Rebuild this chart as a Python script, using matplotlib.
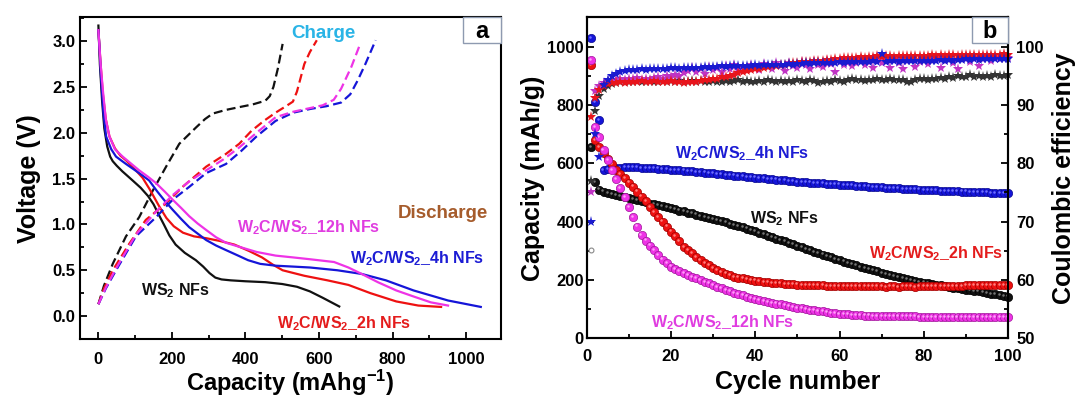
import numpy as np
import matplotlib
matplotlib.use('Agg')
import matplotlib.pyplot as plt
from matplotlib.patches import Rectangle
from matplotlib.ticker import MultipleLocator
from matplotlib.transforms import offset_copy

plt.rcParams['font.family'] = ['Liberation Sans', 'DejaVu Sans']
plt.rcParams['font.weight'] = 'bold'
plt.rcParams['axes.labelweight'] = 'bold'
plt.rcParams['mathtext.fontset'] = 'custom'
plt.rcParams['mathtext.rm'] = 'Liberation Sans:bold'
plt.rcParams['mathtext.bf'] = 'Liberation Sans:bold'
plt.rcParams['mathtext.it'] = 'Liberation Sans:bold:italic'

# ---- panel a: charge / discharge profiles (capacity mAh/g, voltage V) ----
ws2_dis_x = [0, 4, 10, 16, 24, 32, 39, 50, 65, 93, 115, 135, 150, 165, 178, 193, 210, 235, 265, 285, 302, 318, 335, 360, 400, 454, 500, 540, 575, 610, 655]
ws2_dis_y = [3.17, 2.75, 2.35, 2.05, 1.85, 1.74, 1.69, 1.64, 1.58, 1.48, 1.40, 1.31, 1.22, 1.10, 1.00, 0.88, 0.78, 0.69, 0.61, 0.54, 0.47, 0.42, 0.40, 0.39, 0.38, 0.37, 0.35, 0.32, 0.27, 0.20, 0.105]
h2_dis_x = [0, 6, 12, 20, 30, 45, 60, 75, 95, 120, 140, 165, 185, 205, 230, 260, 293, 330, 370, 410, 445, 475, 501, 560, 623, 680, 740, 810, 870, 932]
h2_dis_y = [3.12, 2.75, 2.43, 2.15, 1.96, 1.83, 1.75, 1.70, 1.62, 1.51, 1.38, 1.20, 1.07, 0.98, 0.91, 0.87, 0.85, 0.82, 0.78, 0.71, 0.64, 0.56, 0.50, 0.44, 0.39, 0.34, 0.25, 0.16, 0.115, 0.10]
h4_dis_x = [0, 4, 7, 14, 21, 35, 48, 75, 111, 138, 160, 180, 202, 225, 247, 270, 293, 320, 347, 380, 407, 440, 482, 530, 576, 650, 716, 782, 857, 951, 1040]
h4_dis_y = [3.12, 2.85, 2.61, 2.20, 1.96, 1.82, 1.74, 1.66, 1.56, 1.48, 1.36, 1.26, 1.16, 1.06, 0.97, 0.90, 0.83, 0.77, 0.72, 0.66, 0.61, 0.57, 0.55, 0.54, 0.53, 0.50, 0.46, 0.39, 0.28, 0.17, 0.10]
h12_dis_x = [0, 6, 12, 20, 30, 45, 66, 90, 111, 135, 157, 180, 202, 225, 247, 270, 293, 320, 347, 388, 430, 482, 530, 576, 641, 680, 716, 760, 810, 860, 904, 951]
h12_dis_y = [3.12, 2.75, 2.47, 2.15, 1.96, 1.82, 1.74, 1.66, 1.59, 1.52, 1.45, 1.36, 1.27, 1.18, 1.09, 1.01, 0.94, 0.86, 0.80, 0.75, 0.70, 0.66, 0.64, 0.62, 0.59, 0.53, 0.46, 0.37, 0.28, 0.21, 0.15, 0.115]

ws2_chg_x = [0, 15, 39, 75, 111, 148, 184, 220, 266, 290, 311, 347, 383, 420, 454, 466, 476, 488, 501]
ws2_chg_y = [0.13, 0.33, 0.57, 0.87, 1.08, 1.37, 1.63, 1.88, 2.06, 2.15, 2.21, 2.25, 2.28, 2.31, 2.35, 2.40, 2.50, 2.70, 2.97]
h2_chg_x = [0, 15, 39, 84, 129, 184, 229, 293, 347, 383, 416, 450, 482, 510, 529, 540, 550, 560, 575, 594]
h2_chg_y = [0.13, 0.30, 0.50, 0.79, 1.05, 1.23, 1.41, 1.63, 1.77, 1.88, 2.02, 2.13, 2.22, 2.29, 2.34, 2.45, 2.60, 2.75, 2.88, 3.01]
h4_chg_x = [0, 20, 48, 102, 157, 202, 247, 293, 347, 388, 430, 482, 530, 576, 620, 660, 685, 705, 726, 754]
h4_chg_y = [0.13, 0.30, 0.50, 0.87, 1.08, 1.27, 1.41, 1.56, 1.66, 1.80, 1.96, 2.13, 2.22, 2.26, 2.29, 2.33, 2.42, 2.57, 2.75, 3.01]
h12_chg_x = [0, 20, 48, 102, 157, 202, 247, 293, 340, 383, 430, 482, 530, 576, 610, 640, 660, 688, 712]
h12_chg_y = [0.13, 0.31, 0.52, 0.89, 1.14, 1.32, 1.47, 1.59, 1.71, 1.84, 2.00, 2.17, 2.23, 2.27, 2.30, 2.36, 2.48, 2.72, 2.97]

# ---- panel b: cycling (cycles 1..100) ----
cycles = list(range(1, 101))
ws2_cap = [657, 537, 510, 503, 498, 494, 491, 487, 484, 480,
           477, 473, 470, 466, 462, 459, 456, 452, 449, 445,
           442, 438, 435, 431, 428, 424, 420, 417, 413, 409,
           405, 401, 397, 393, 389, 384, 380, 376, 371, 367,
           362, 357, 352, 347, 342, 337, 332, 327, 322, 317,
           312, 307, 302, 297, 292, 287, 282, 277, 272, 268,
           263, 259, 254, 250, 245, 241, 237, 233, 229, 225,
           221, 217, 213, 210, 206, 203, 200, 197, 194, 191,
           188, 186, 183, 181, 178, 176, 174, 171, 169, 167,
           165, 163, 161, 159, 156, 153, 151, 148, 146, 143]
h2_cap = [937, 680, 655, 634, 615, 596, 577, 562, 548, 534,
          520, 503, 486, 469, 451, 434, 417, 400, 383, 366,
          349, 332, 314, 302, 291, 279, 268, 259, 250, 242,
          234, 228, 222, 216, 211, 208, 205, 202, 200, 198,
          196, 194, 192, 190, 189, 188, 187, 186, 185, 184,
          183, 183, 182, 182, 181, 181, 180, 180, 180, 179,
          179, 179, 178, 178, 178, 178, 178, 178, 178, 178,
          177, 178, 178, 177, 178, 178, 178, 177, 178, 178,
          178, 179, 179, 179, 179, 180, 180, 180, 180, 181,
          181, 181, 182, 182, 182, 182, 183, 183, 183, 183]
h4_cap = [1030, 811, 748, 578, 580, 582, 584, 585, 586, 586,
          586, 586, 585, 585, 584, 583, 582, 581, 580, 578,
          577, 576, 575, 574, 572, 571, 570, 568, 567, 566,
          564, 563, 561, 560, 558, 557, 555, 554, 552, 551,
          549, 548, 547, 545, 544, 542, 541, 540, 538, 537,
          536, 535, 534, 533, 532, 531, 530, 529, 528, 527,
          526, 525, 524, 523, 522, 521, 520, 519, 518, 517,
          516, 515, 515, 514, 513, 512, 511, 511, 510, 509,
          508, 508, 507, 506, 506, 505, 504, 504, 503, 503,
          502, 501, 501, 500, 500, 499, 499, 498, 498, 497]
h12_cap = [954, 725, 691, 645, 610, 577, 545, 515, 483, 451,
           417, 383, 354, 335, 318, 301, 285, 270, 257, 246,
           238, 231, 223, 217, 211, 205, 200, 194, 189, 183,
           177, 171, 166, 161, 156, 152, 147, 143, 139, 134,
           131, 128, 125, 122, 119, 116, 114, 111, 108, 105,
           103, 100, 98, 96, 94, 92, 90, 88, 86, 84,
           83, 82, 81, 80, 79, 78, 78, 77, 77, 76,
           76, 76, 75, 75, 75, 75, 75, 75, 74, 74,
           74, 74, 74, 74, 74, 74, 74, 74, 74, 74,
           74, 74, 74, 74, 74, 74, 74, 74, 74, 74]

ws2_ce = [77, 89.0, 91.5, 92.8, 93.3, 93.6, 93.8, 93.9, 94.0, 93.9,
          94.0, 94.1, 93.9, 94.0, 94.1, 94.0, 93.9, 94.1, 94.0, 94.1,
          94.0, 94.1, 93.9, 94.0, 94.1, 94.0, 94.1, 93.9, 94.0, 94.1,
          94.0, 93.9, 94.1, 94.0, 94.1, 94.2, 94.0, 94.1, 93.9, 94.0,
          94.1, 94.0, 94.2, 94.1, 94.0, 94.1, 93.9, 94.1, 94.0, 94.2,
          94.1, 94.0, 94.2, 94.1, 93.8, 94.0, 94.1, 94.0, 94.2, 94.1,
          94.0, 94.2, 94.5, 94.3, 94.2, 94.1, 94.3, 94.2, 94.4, 94.3,
          94.2, 94.4, 94.3, 94.2, 94.3, 93.9, 94.0, 94.3, 94.5, 94.4,
          94.3, 94.5, 94.4, 94.6, 94.5, 94.7, 94.6, 95.0, 94.7, 94.8,
          95.2, 94.8, 94.9, 94.7, 95.0, 94.8, 95.1, 94.9, 95.0, 95.1]
h2_ce = [88, 91.2, 92.5, 93.2, 93.5, 93.7, 93.8, 93.9, 93.8, 94.0,
         93.9, 94.0, 94.1, 93.9, 94.0, 94.1, 94.0, 93.9, 94.0, 94.1,
         93.9, 94.0, 93.8, 93.9, 94.0, 93.9, 94.1, 94.2, 94.3, 94.4,
         94.5, 94.7, 94.8, 95.0, 95.2, 95.4, 95.6, 95.8, 96.0, 96.1,
         96.2, 96.3, 96.5, 96.6, 96.7, 96.8, 96.9, 97.0, 97.1, 97.2,
         97.3, 97.3, 97.4, 97.5, 97.5, 97.6, 97.7, 97.7, 97.8, 97.9,
         98.0, 98.1, 98.0, 98.1, 98.2, 98.1, 98.2, 98.2, 98.3, 98.2,
         98.3, 98.3, 98.2, 98.3, 98.4, 98.3, 98.4, 98.4, 98.3, 98.4,
         98.4, 98.5, 98.4, 98.5, 98.4, 98.5, 98.5, 98.4, 98.5, 98.6,
         98.5, 98.6, 98.5, 98.6, 98.6, 98.5, 98.6, 98.6, 98.7, 98.6]
h4_ce = [70, 85, 81, 93.4, 94.3, 94.9, 95.3, 95.6, 95.8, 95.9,
         96.0, 96.0, 96.1, 96.0, 96.1, 96.2, 96.1, 96.2, 96.2, 96.3,
         96.3, 96.2, 96.3, 96.4, 96.3, 96.4, 96.4, 96.5, 96.4, 96.5,
         96.5, 96.6, 96.5, 96.6, 96.6, 96.7, 96.6, 96.7, 96.7, 96.8,
         96.7, 96.8, 96.8, 96.9, 96.8, 96.9, 96.9, 97.0, 96.9, 97.0,
         97.0, 97.1, 97.0, 97.1, 97.1, 97.2, 97.1, 97.2, 97.2, 97.3,
         97.2, 97.3, 97.3, 97.4, 97.3, 97.4, 97.4, 97.5, 97.4, 98.8,
         97.4, 97.5, 97.5, 97.4, 97.5, 97.5, 97.6, 97.5, 97.6, 97.6,
         97.5, 97.6, 97.6, 97.7, 97.6, 97.7, 97.6, 97.7, 97.7, 97.8,
         97.7, 97.8, 97.7, 97.8, 97.8, 97.8, 97.9, 97.8, 97.9, 97.9]
h12_ce = [75, 92.3, 93.2, 93.8, 94.1, 94.3, 94.2, 94.4, 94.3, 94.5,
          94.4, 94.6, 94.3, 94.5, 94.2, 94.6, 94.8, 94.4, 95.0, 94.7,
          95.2, 94.9, 95.4, 95.8, 96.4, 95.6, 96.2, 95.3, 96.5, 96.0,
          96.3, 95.7, 96.6, 96.1, 96.8, 95.9, 96.4, 96.1, 96.9, 96.3,
          96.0, 97.0, 96.5, 96.2, 97.1, 96.6, 95.8, 97.2, 96.7, 96.4,
          97.3, 96.8, 96.2, 97.4, 96.9, 96.5, 97.5, 97.0, 95.6, 97.3,
          96.9, 97.6, 96.6, 97.2, 97.7, 96.8, 97.4, 96.3, 97.8, 97.1,
          97.5, 96.4, 97.9, 97.2, 96.1, 97.6, 97.9, 96.5, 97.3, 98.0,
          97.0, 97.7, 98.1, 96.3, 97.6, 98.0, 97.2, 96.1, 97.9, 98.2,
          97.4, 98.0, 96.6, 97.8, 98.2, 97.5, 98.1, 97.9, 98.3, 98.0]
open_pt_cycle = [1]
open_pt_ce = [65.1]

c_blk, c_red, c_blu, c_mag = '#111111', '#ee1111', '#1515d8', '#ee33e6'

fig = plt.figure(figsize=(10.77, 4.01), dpi=100)
ax1 = fig.add_axes([0.0743, 0.1546, 0.3909, 0.8022])
ax2 = fig.add_axes([0.5448, 0.1564, 0.3912, 0.8002])

dash = (0, (4, 2))
for (dx, dy, cx, cy, col) in [(ws2_dis_x, ws2_dis_y, ws2_chg_x, ws2_chg_y, c_blk),
                              (h2_dis_x, h2_dis_y, h2_chg_x, h2_chg_y, c_red),
                              (h4_dis_x, h4_dis_y, h4_chg_x, h4_chg_y, c_blu),
                              (h12_dis_x, h12_dis_y, h12_chg_x, h12_chg_y, c_mag)]:
    ax1.plot(dx, dy, color=col, lw=1.6, solid_joinstyle='round')
    ax1.plot(cx, cy, color=col, lw=1.6, linestyle=dash)

ax1.set_xlim(-50, 1095)
ax1.set_ylim(-0.25, 3.26)
ax1.xaxis.set_major_locator(MultipleLocator(200))
ax1.xaxis.set_minor_locator(MultipleLocator(100))
ax1.yaxis.set_major_locator(MultipleLocator(0.5))
ax1.yaxis.set_minor_locator(MultipleLocator(0.25))
ax1.set_xlabel('Capacity (mAhg$^{-1}$)', fontsize=17, labelpad=1)
ax1.set_ylabel('Voltage (V)', fontsize=18, labelpad=8)

lbl = dict(fontsize=11.5, ha='center', va='center', fontweight='bold')
ax1.text(613, 3.08, 'Charge', color='#2ab4e6', fontsize=13.5, ha='center', va='center')
ax1.text(936, 1.12, 'Discharge', color='#a65c2c', fontsize=13.5, ha='center', va='center')
ax1.text(571, 0.96, 'W$_2$C/WS$_2$_12h NFs', color='#e03ce0', **lbl)
ax1.text(866, 0.625, 'W$_2$C/WS$_2$_4h NFs', color='#1c1cd4', **lbl)
ax1.text(208, 0.28, 'WS$_2$ NFs', color='#111111', **lbl)
ax1.text(669, -0.08, 'W$_2$C/WS$_2$_2h NFs', color='#e41c1c', **lbl)

# capacity circles, with a small highlight to mimic the shaded spheres
hl = offset_copy(ax2.transData, fig=fig, x=-0.8, y=0.8, units='points')
for cap, col, ec, light in [(ws2_cap, c_blk, '#000000', '#777777'),
                            (h4_cap, c_blu, '#0a0a90', '#7070ff'),
                            (h2_cap, c_red, '#a00000', '#ff8080'),
                            (h12_cap, c_mag, '#a0189a', '#ffa0f8')]:
    ax2.plot(cycles, cap, 'o', color=col, ms=6, mec=ec, mew=0.5, clip_on=False, zorder=3)
    ax2.plot(cycles, cap, 'o', color=light, ms=1.8, mew=0, clip_on=False, zorder=3,
             transform=hl)

ax2.set_xlim(0, 100)
ax2.set_ylim(0, 1100)
ax2.xaxis.set_major_locator(MultipleLocator(20))
ax2.xaxis.set_minor_locator(MultipleLocator(10))
ax2.yaxis.set_major_locator(MultipleLocator(200))
ax2.yaxis.set_minor_locator(MultipleLocator(100))
ax2.set_xlabel('Cycle number', fontsize=18, labelpad=4)
ax2.set_ylabel('Capacity (mAh/g)', fontsize=18, labelpad=2)

ax3 = ax2.twinx()
for ce, col in [(ws2_ce, '#333333'), (h12_ce, '#c034c4'), (h2_ce, '#e8141c'), (h4_ce, '#1a1ad0')]:
    ax3.plot(cycles, ce, '*', color=col, ms=8, mew=0, clip_on=False)
ax3.plot(open_pt_cycle, open_pt_ce, 'o', mfc='white', mec='#888888', ms=3.5, mew=0.8, clip_on=False)
ax3.set_ylim(50, 105)
ax3.yaxis.set_major_locator(MultipleLocator(10))
ax3.yaxis.set_minor_locator(MultipleLocator(5))
ax3.set_ylabel('Coulombic efficiency', fontsize=18, labelpad=6)

ax2.text(36.9, 633, 'W$_2$C/WS$_2$_4h NFs', color='#1c1cd4', **lbl)
ax2.text(47, 411, 'WS$_2$ NFs', color='#111111', **lbl)
ax2.text(82.8, 291, 'W$_2$C/WS$_2$_2h NFs', color='#e41c1c', **lbl)
ax2.text(32.2, 53, 'W$_2$C/WS$_2$_12h NFs', color='#e03ce0', **lbl)

for ax in (ax1, ax2, ax3):
    for s in ax.spines.values():
        s.set_linewidth(1.5)
    ax.tick_params(which='both', direction='in', width=1.3, labelsize=12)
    ax.tick_params(which='major', length=5)
    ax.tick_params(which='minor', length=3)
ax1.tick_params(which='both', top=False, right=False)
ax1.tick_params(axis='x', pad=9)
ax2.tick_params(which='both', top=False, right=False)
ax2.tick_params(axis='x', pad=8)
ax2.tick_params(axis='y', pad=2)
ax3.tick_params(which='both', left=False, right=True, labelright=True)
ax3.tick_params(axis='y', pad=6)
# the lowest right-hand label sits just above the "100" of the x axis
ax3.get_yticklabels()[0].set_verticalalignment('bottom')

# panel letters
for ax, letter, w, h in [(ax1, 'a', 0.09, 0.081), (ax3, 'b', 0.086, 0.079)]:
    ax.add_patch(Rectangle((1 - w, 1 - h), w, h, transform=ax.transAxes, fc='white',
                           ec='#8e9ab0', lw=1.0, zorder=5, clip_on=False))
    ax.text(1 - w / 2, 1 - h / 2 - 0.005, letter, transform=ax.transAxes, fontsize=17,
            ha='center', va='center', zorder=6)

fig.savefig('out.png', dpi=100)
